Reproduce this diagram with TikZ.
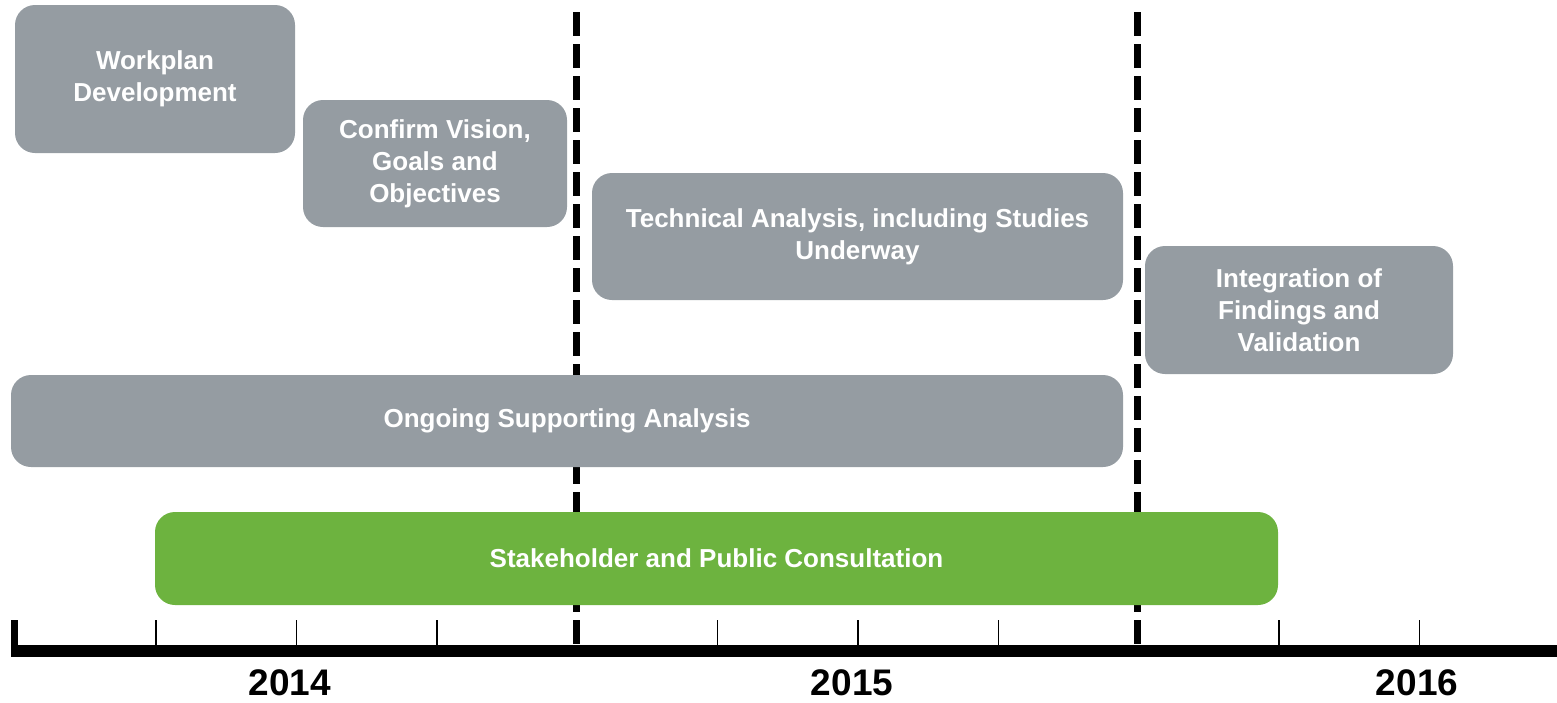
\documentclass[tikz,border=0pt]{standalone}
\usepackage{fontspec}
\setmainfont{Liberation Sans}
\definecolor{phasegray}{RGB}{149,156,162}
\definecolor{consultgreen}{RGB}{109,179,63}
\begin{document}
\begin{tikzpicture}[x=1pt,y=-1pt,
  phase/.style={fill=phasegray,rounded corners=20pt,text=white,align=center,inner sep=0pt,
    font=\fontsize{26}{32}\selectfont\bfseries},
  yearlabel/.style={inner sep=0pt,font=\fontsize{37}{44}\selectfont\bfseries}]
\useasboundingbox (0,0) rectangle (1557,702);
\foreach \x in {576,1137.5} {
\draw[line width=7pt,dash pattern=on 24pt off 8pt] (\x,12) -- (\x,645);
}
\node[phase,minimum width=280pt,minimum height=148pt] (workplan) at (155,79) {Workplan\\Development};
\node[phase,minimum width=264pt,minimum height=127pt] (vision) at (435,163.5) {Confirm Vision,\\Goals and\\Objectives};
\node[phase,minimum width=531pt,minimum height=127pt] (technical) at (857.5,236.5) {Technical Analysis, including Studies\\Underway};
\node[phase,minimum width=308pt,minimum height=128pt] (integration) at (1299,310) {Integration of\\Findings and\\Validation};
\node[phase,minimum width=1112pt,minimum height=92pt] (ongoing) at (567,421) {Ongoing Supporting Analysis};
\node[phase,fill=consultgreen,minimum width=1123pt,minimum height=93pt] (consult) at (716.5,558.5) {Stakeholder and Public Consultation};
\foreach \k in {1,2,3,5,6,7,9,10} {
\draw[line width=1.5pt] (15.6+140.4*\k,620) -- (15.6+140.4*\k,646);
}
\draw[line width=7pt] (14.5,620) -- (14.5,657);
\draw[line width=12pt] (11,651) -- (1557,651);
\node[yearlabel] (y2014) at (290,683) {2014};
\node[yearlabel] (y2015) at (852,683) {2015};
\node[yearlabel] (y2016) at (1417,683) {2016};
\end{tikzpicture}
\end{document}
